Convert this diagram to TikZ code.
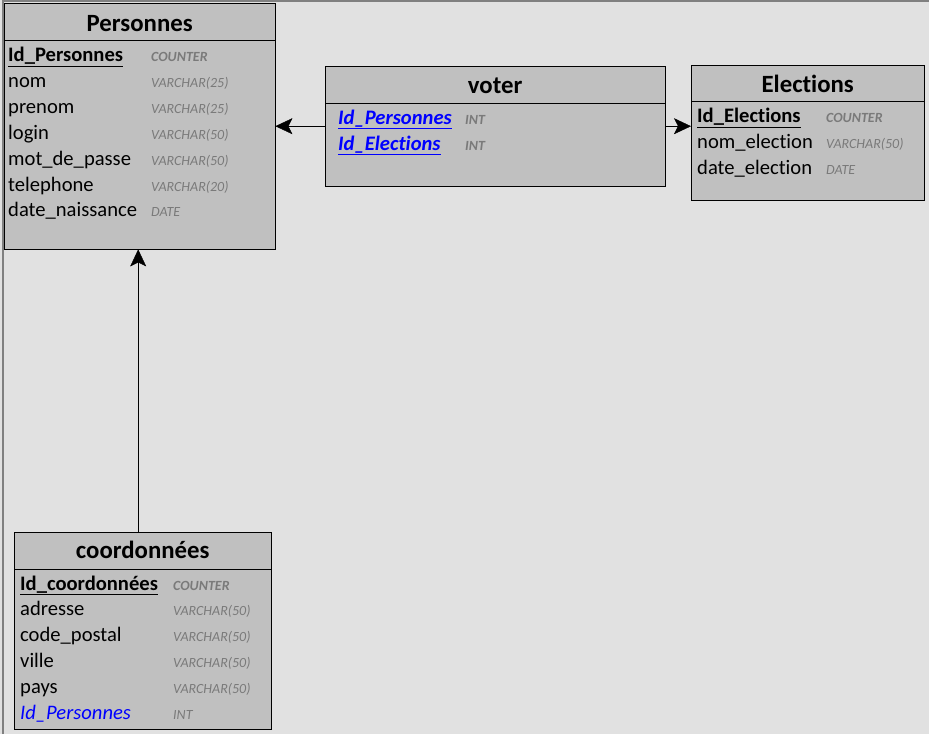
\documentclass[tikz,border=0pt]{standalone}
\usepackage{fontspec}
\setmainfont{Carlito}[Ligatures=NoCommon]
\usetikzlibrary{arrows.meta,positioning}
\definecolor{bgback}{HTML}{E1E1E1}
\definecolor{tblfill}{HTML}{C0C0C0}
\definecolor{typegray}{HTML}{7A7A7A}
\definecolor{keyblue}{HTML}{0000FF}

\begin{document}
\begin{tikzpicture}[x=1pt,y=-1pt,
    entity/.style={draw,fill=tblfill,anchor=north west,inner sep=0pt},
    tblhead/.style={font=\fontsize{24.8}{26}\selectfont\bfseries,anchor=base,inner sep=0pt},
    attr/.style={font=\fontsize{20.6}{22}\selectfont,anchor=base west,inner sep=0pt},
    attrtype/.style={font=\fontsize{14}{15}\selectfont\itshape,text=typegray,anchor=base west,inner sep=0pt},
    link/.style={-{Stealth[length=17pt,width=16pt,inset=4pt]}}]
    \useasboundingbox (0,0) rectangle (929,734);
    \fill[bgback] (0,0) rectangle (929,734);
    \draw[gray,line width=1.5pt] (3,734) -- (3,1) -- (929,1);

    % Personnes
    \node[entity,minimum width=271pt,minimum height=246pt] (pers) at (4,3) {};
    \draw ([yshift=-37pt]pers.north west) -- ([yshift=-37pt]pers.north east);
    \node[tblhead] (pers-title) at ([yshift=-28pt]pers.north) {Personnes};
    \foreach \n/\t [count=\i from 0] in {%
        {\bfseries\underline{Id\_Personnes}}/{\bfseries COUNTER},
        nom/{VARCHAR(25)}, prenom/{VARCHAR(25)}, login/{VARCHAR(50)},
        mot\_de\_passe/{VARCHAR(50)}, telephone/{VARCHAR(20)},
        date\_naissance/DATE} {
        \node[attr] (pers-\i) at (8,{61.5+25.9*\i}) {\n};
        \node[attrtype] (pers-t\i) at (151,{61.5+25.9*\i}) {\t};
    }

    % voter
    \node[entity,minimum width=340pt,minimum height=120pt] (voter) at (325,66) {};
    \draw ([yshift=-37pt]voter.north west) -- ([yshift=-37pt]voter.north east);
    \node[tblhead] (voter-title) at ([yshift=-27pt]voter.north) {voter};
    \foreach \n [count=\i from 0] in {Personnes,Elections} {
        \node[attr,text=keyblue] (voter-\i) at (338,{124+26*\i}) {\bfseries\itshape\underline{Id\_\n}};
        \node[attrtype] (voter-t\i) at (465,{124+26*\i}) {\bfseries INT};
    }

    % Elections
    \node[entity,minimum width=233pt,minimum height=135pt] (elec) at (691,65) {};
    \draw ([yshift=-36pt]elec.north west) -- ([yshift=-36pt]elec.north east);
    \node[tblhead] (elec-title) at ([yshift=-27pt]elec.north) {Elections};
    \foreach \n/\t [count=\i from 0] in {%
        {\bfseries\underline{Id\_Elections}}/{\bfseries COUNTER},
        nom\_election/{VARCHAR(50)}, date\_election/DATE} {
        \node[attr] (elec-\i) at (697,{122.5+26*\i}) {\n};
        \node[attrtype] (elec-t\i) at (826,{122.5+26*\i}) {\t};
    }

    % coordonnees
    \node[entity,minimum width=257pt,minimum height=197pt] (coord) at (14,532) {};
    \draw ([yshift=-37pt]coord.north west) -- ([yshift=-37pt]coord.north east);
    \node[tblhead] (coord-title) at ([yshift=-26pt]coord.north) {coordonnées};
    \foreach \n/\t [count=\i from 0] in {%
        {\bfseries\underline{Id\_coordonnées}}/{\bfseries COUNTER},
        adresse/{VARCHAR(50)}, code\_postal/{VARCHAR(50)}, ville/{VARCHAR(50)},
        pays/{VARCHAR(50)}, {\color{keyblue}\itshape Id\_Personnes}/INT} {
        \node[attr] (coord-\i) at (20,{590+25.9*\i}) {\n};
        \node[attrtype] (coord-t\i) at (173,{590+25.9*\i}) {\t};
    }

    \draw[link] (voter.west) -- (pers.east);
    \draw[link] (voter.east) -- (voter.east -| elec.west);
    \draw[link] ([xshift=-1.5pt]coord.north -| pers.south) -- ([xshift=-1.5pt]pers.south);
\end{tikzpicture}
\end{document}
